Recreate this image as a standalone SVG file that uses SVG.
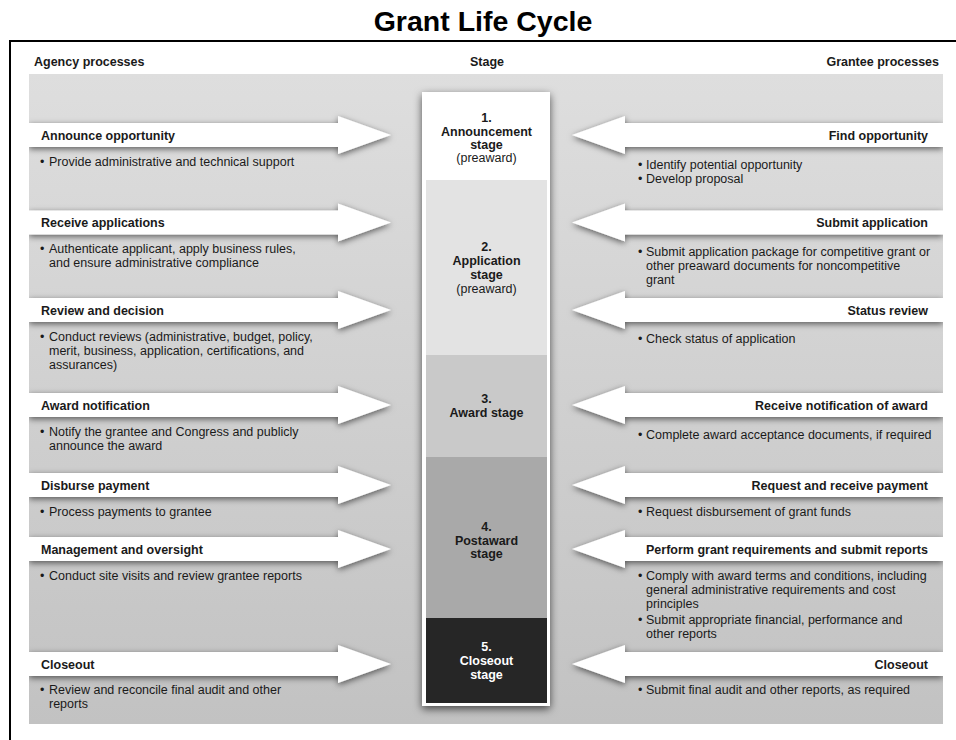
<svg xmlns="http://www.w3.org/2000/svg" xmlns:xlink="http://www.w3.org/1999/xlink" width="956" height="740" viewBox="0 0 956 740">
  <style>
    text { font-family: "Liberation Sans", Arial, sans-serif; fill: #1a1a1a; }
    .title { font-size: 28.5px; font-weight: bold; fill: #000; }
    .hdr { font-size: 12.5px; font-weight: bold; }
    .head { font-size: 12.5px; font-weight: bold; }
    .body { font-size: 12.5px; }
    .stg { font-size: 12.5px; font-weight: bold; text-anchor: middle; }
    .stg-sub { font-size: 12.5px; text-anchor: middle; }
    .inv { fill: #ffffff; }
    .r { text-anchor: end; }
    .arrow { fill: #ffffff; }
  </style>
  <defs>
    <linearGradient id="panelFill" x1="0" y1="0" x2="0" y2="1">
      <stop offset="0" stop-color="#dedede"/>
      <stop offset="1" stop-color="#c2c2c2"/>
    </linearGradient>
    <filter id="softShadow" x="-10%" y="-60%" width="120%" height="220%">
      <feGaussianBlur in="SourceAlpha" stdDeviation="3"/>
      <feOffset dy="2" result="blur"/>
      <feFlood flood-color="#000" flood-opacity="0.58"/>
      <feComposite in2="blur" operator="in"/>
      <feMerge>
        <feMergeNode/>
        <feMergeNode in="SourceGraphic"/>
      </feMerge>
    </filter>
    <filter id="columnShadow" x="-20%" y="-5%" width="140%" height="112%">
      <feGaussianBlur in="SourceAlpha" stdDeviation="4.5"/>
      <feOffset dy="3" result="blur"/>
      <feFlood flood-color="#000" flood-opacity="0.65"/>
      <feComposite in2="blur" operator="in"/>
      <feMerge>
        <feMergeNode/>
        <feMergeNode in="SourceGraphic"/>
      </feMerge>
    </filter>
    <clipPath id="panelClip">
      <rect x="29" y="74" width="914" height="650"/>
    </clipPath>
    <!-- arrow shapes centred on y = 0 -->
    <path id="arrowRight" d="M29,-12 H338 V-19 L391,0 L338,19 V12 H29 Z"/>
    <path id="arrowLeft" d="M943,-12 H625 V-19 L572,0 L625,19 V12 H943 Z"/>
  </defs>

  <!-- title and frame -->
  <text class="title" x="483" y="31" text-anchor="middle">Grant Life Cycle</text>
  <path d="M10,740 V41 H956" fill="none" stroke="#000" stroke-width="2"/>

  <!-- column headers -->
  <text class="hdr" x="34" y="66">Agency processes</text>
  <text class="hdr" x="487" y="66" text-anchor="middle">Stage</text>
  <text class="hdr r" x="939" y="66">Grantee processes</text>

  <!-- shaded background panel -->
  <rect x="29" y="74" width="914" height="650" fill="url(#panelFill)"/>

  <!-- connectors: white arrows pointing at the stage column -->
  <g id="connectors" clip-path="url(#panelClip)">
    <g filter="url(#softShadow)">
      <use xlink:href="#arrowRight" class="arrow" transform="translate(0,135)"/>
      <use xlink:href="#arrowLeft" class="arrow" transform="translate(0,135)"/>
    </g>
    <g filter="url(#softShadow)">
      <use xlink:href="#arrowRight" class="arrow" transform="translate(0,222.5)"/>
      <use xlink:href="#arrowLeft" class="arrow" transform="translate(0,222.5)"/>
    </g>
    <g filter="url(#softShadow)">
      <use xlink:href="#arrowRight" class="arrow" transform="translate(0,310)"/>
      <use xlink:href="#arrowLeft" class="arrow" transform="translate(0,310)"/>
    </g>
    <g filter="url(#softShadow)">
      <use xlink:href="#arrowRight" class="arrow" transform="translate(0,405)"/>
      <use xlink:href="#arrowLeft" class="arrow" transform="translate(0,405)"/>
    </g>
    <g filter="url(#softShadow)">
      <use xlink:href="#arrowRight" class="arrow" transform="translate(0,485)"/>
      <use xlink:href="#arrowLeft" class="arrow" transform="translate(0,485)"/>
    </g>
    <g filter="url(#softShadow)">
      <use xlink:href="#arrowRight" class="arrow" transform="translate(0,549)"/>
      <use xlink:href="#arrowLeft" class="arrow" transform="translate(0,549)"/>
    </g>
    <g filter="url(#softShadow)">
      <use xlink:href="#arrowRight" class="arrow" transform="translate(0,664)"/>
      <use xlink:href="#arrowLeft" class="arrow" transform="translate(0,664)"/>
    </g>
  </g>

  <!-- stage column -->
  <g id="stages">
    <rect x="422" y="92" width="128" height="614" fill="#ffffff" filter="url(#columnShadow)"/>
    <g id="stage-1">
      <rect x="426" y="95" width="121" height="85" fill="#ffffff"/>
      <text class="stg" x="486.5" y="122">1.</text>
      <text class="stg" x="486.5" y="135.5">Announcement</text>
      <text class="stg" x="486.5" y="149">stage</text>
      <text class="stg-sub" x="486.5" y="162">(preaward)</text>
    </g>
    <g id="stage-2">
      <rect x="426" y="180" width="121" height="175" fill="#e3e3e3"/>
      <text class="stg" x="486.5" y="251">2.</text>
      <text class="stg" x="486.5" y="265">Application</text>
      <text class="stg" x="486.5" y="279">stage</text>
      <text class="stg-sub" x="486.5" y="293">(preaward)</text>
    </g>
    <g id="stage-3">
      <rect x="426" y="355" width="121" height="102" fill="#c9c9c9"/>
      <text class="stg" x="486.5" y="403">3.</text>
      <text class="stg" x="486.5" y="417">Award stage</text>
    </g>
    <g id="stage-4">
      <rect x="426" y="457" width="121" height="161" fill="#a9a9a9"/>
      <text class="stg" x="486.5" y="531">4.</text>
      <text class="stg" x="486.5" y="544.5">Postaward</text>
      <text class="stg" x="486.5" y="558">stage</text>
    </g>
    <g id="stage-5">
      <rect x="426" y="618" width="121" height="85" fill="#262626"/>
      <text class="stg inv" x="486.5" y="651">5.</text>
      <text class="stg inv" x="486.5" y="665">Closeout</text>
      <text class="stg inv" x="486.5" y="678.5">stage</text>
    </g>
  </g>

  <!-- agency processes -->
  <g id="agency-announce">
    <text class="head" x="41" y="139.5">Announce opportunity</text>
    <text class="body" y="165.5"><tspan x="40">•</tspan><tspan x="49">Provide administrative and technical support</tspan></text>
  </g>
  <g id="agency-receive">
    <text class="head" x="41" y="227">Receive applications</text>
    <text class="body" y="253"><tspan x="40">•</tspan><tspan x="49">Authenticate applicant, apply business rules,</tspan></text>
    <text class="body" x="49" y="267">and ensure administrative compliance</text>
  </g>
  <g id="agency-review">
    <text class="head" x="41" y="314.5">Review and decision</text>
    <text class="body" y="341"><tspan x="40">•</tspan><tspan x="49">Conduct reviews (administrative, budget, policy,</tspan></text>
    <text class="body" x="49" y="355">merit, business, application, certifications, and</text>
    <text class="body" x="49" y="369">assurances)</text>
  </g>
  <g id="agency-award">
    <text class="head" x="41" y="409.5">Award notification</text>
    <text class="body" y="435.5"><tspan x="40">•</tspan><tspan x="49">Notify the grantee and Congress and publicly</tspan></text>
    <text class="body" x="49" y="449.5">announce the award</text>
  </g>
  <g id="agency-disburse">
    <text class="head" x="41" y="489.5">Disburse payment</text>
    <text class="body" y="516"><tspan x="40">•</tspan><tspan x="49">Process payments to grantee</tspan></text>
  </g>
  <g id="agency-management">
    <text class="head" x="41" y="553.5">Management and oversight</text>
    <text class="body" y="580"><tspan x="40">•</tspan><tspan x="49">Conduct site visits and review grantee reports</tspan></text>
  </g>
  <g id="agency-closeout">
    <text class="head" x="41" y="668.5">Closeout</text>
    <text class="body" y="693.5"><tspan x="40">•</tspan><tspan x="49">Review and reconcile final audit and other</tspan></text>
    <text class="body" x="49" y="707.5">reports</text>
  </g>

  <!-- grantee processes -->
  <g id="grantee-find">
    <text class="head r" x="928" y="139.5">Find opportunity</text>
    <text class="body" y="168.5"><tspan x="638">•</tspan><tspan x="646">Identify potential opportunity</tspan></text>
    <text class="body" y="182.5"><tspan x="638">•</tspan><tspan x="646">Develop proposal</tspan></text>
  </g>
  <g id="grantee-submit">
    <text class="head r" x="928" y="227">Submit application</text>
    <text class="body" y="256"><tspan x="638">•</tspan><tspan x="646">Submit application package for competitive grant or</tspan></text>
    <text class="body" x="646" y="270">other preaward documents for noncompetitive</text>
    <text class="body" x="646" y="284">grant</text>
  </g>
  <g id="grantee-status">
    <text class="head r" x="928" y="314.5">Status review</text>
    <text class="body" y="343"><tspan x="638">•</tspan><tspan x="646">Check status of application</tspan></text>
  </g>
  <g id="grantee-notification">
    <text class="head r" x="928" y="409.5">Receive notification of award</text>
    <text class="body" y="439"><tspan x="638">•</tspan><tspan x="646">Complete award acceptance documents, if required</tspan></text>
  </g>
  <g id="grantee-payment">
    <text class="head r" x="928" y="489.5">Request and receive payment</text>
    <text class="body" y="516"><tspan x="638">•</tspan><tspan x="646">Request disbursement of grant funds</tspan></text>
  </g>
  <g id="grantee-reports">
    <text class="head r" x="928" y="553.5">Perform grant requirements and submit reports</text>
    <text class="body" y="580"><tspan x="638">•</tspan><tspan x="646">Comply with award terms and conditions, including</tspan></text>
    <text class="body" x="646" y="594">general administrative requirements and cost</text>
    <text class="body" x="646" y="608">principles</text>
    <text class="body" y="624"><tspan x="638">•</tspan><tspan x="646">Submit appropriate financial, performance and</tspan></text>
    <text class="body" x="646" y="638">other reports</text>
  </g>
  <g id="grantee-closeout">
    <text class="head r" x="928" y="668.5">Closeout</text>
    <text class="body" y="693.5"><tspan x="638">•</tspan><tspan x="646">Submit final audit and other reports, as required</tspan></text>
  </g>
</svg>
